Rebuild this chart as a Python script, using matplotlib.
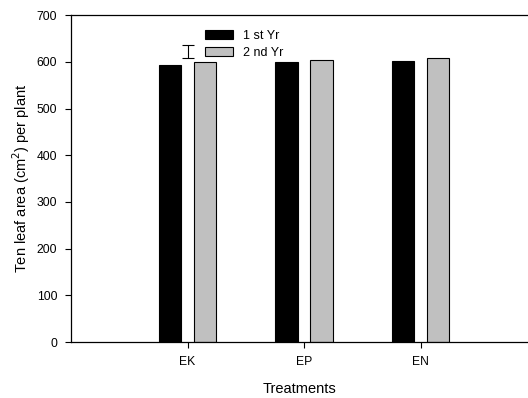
import matplotlib
matplotlib.use("Agg")
import matplotlib.pyplot as plt
from matplotlib.patches import Patch

plt.rcParams['font.family'] = ['Liberation Sans', 'DejaVu Sans']

categories = ["EK", "EP", "EN"]
yr1 = [594, 599, 602]
yr2 = [600, 604, 609]
series_labels = ["1 st Yr", "2 nd Yr"]
err_center = 622
err_half = 14

fig = plt.figure(figsize=(5.28, 3.98), dpi=100)
ax = fig.add_axes([0.1345, 0.1407, 0.865, 0.8213])

x = list(range(len(categories)))
w = 0.19
off = 0.15
ax.bar([i - off for i in x], yr1, width=w, color="black", edgecolor="black", linewidth=0.8)
ax.bar([i + off for i in x], yr2, width=w, color="#c0c0c0", edgecolor="black", linewidth=0.8)

ax.errorbar([0], [err_center], yerr=[err_half], fmt="none", ecolor="black",
            elinewidth=0.8, capsize=4, capthick=0.8)

ax.set_xlim(-1.0, 2.92)
ax.set_ylim(0, 700)
ax.set_xticks(x)
ax.set_xticklabels(categories)
ax.set_yticks(range(0, 701, 100))
ax.tick_params(axis="both", direction="out", length=4, width=0.8, labelsize=8.7, pad=6)
ax.spines["right"].set_visible(False)
for s in ["left", "bottom", "top"]:
    ax.spines[s].set_linewidth(0.9)

ax.set_xlabel("Treatments", fontsize=10.5, labelpad=10)
ax.set_ylabel("Ten leaf area (cm$^2$) per plant", fontsize=10.5, labelpad=3)

handles = [Patch(facecolor="black", edgecolor="black", linewidth=0.8),
           Patch(facecolor="#c0c0c0", edgecolor="black", linewidth=0.8)]
ax.legend(handles, series_labels, loc="upper left", bbox_to_anchor=(0.282, 0.97),
          frameon=False, fontsize=9, handlelength=2.25, handleheight=0.65,
          handletextpad=0.8, labelspacing=0.4, borderaxespad=0)

fig.savefig("out.png", dpi=100)
